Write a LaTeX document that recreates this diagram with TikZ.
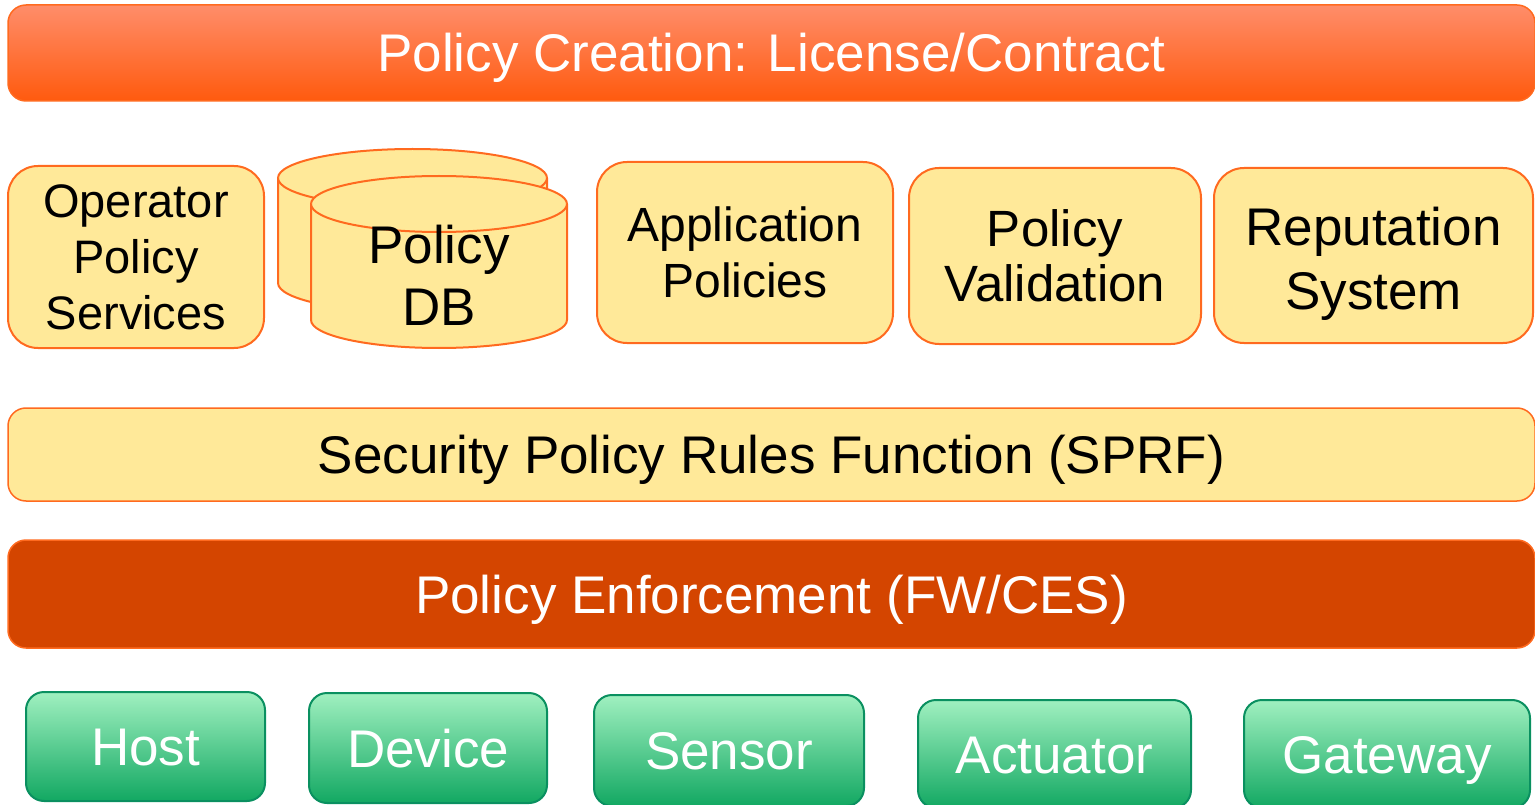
\documentclass[tikz,border=0pt]{standalone}
\usepackage{fontspec}
\setmainfont{Liberation Sans}

\definecolor{pyellow}{HTML}{FFE999}
\definecolor{porange}{HTML}{FF6A1F}
\definecolor{ptop}{HTML}{FF8D6A}
\definecolor{pbot}{HTML}{FF5A0E}
\definecolor{penf}{HTML}{D44500}
\definecolor{gtop}{HTML}{A0F0C0}
\definecolor{gbot}{HTML}{12A862}
\definecolor{gline}{HTML}{0A9060}

\tikzset{
	bar/.style={rounded corners=18pt, minimum width=1527pt, draw=porange, line width=1.5pt,
		text height=38pt, text depth=0pt, font=\fontsize{53}{60}\selectfont},
	ybox/.style={rounded corners=30pt, fill=pyellow, draw=porange, line width=2pt, align=center},
	gbox/.style={rounded corners=18pt, top color=gtop, bottom color=gbot, draw=gline, line width=2pt,
		text=white, text height=38pt, text depth=0pt, font=\fontsize{53}{60}\selectfont},
	dbpart/.style={fill=pyellow, draw=porange, line width=2pt},
}

\begin{document}
\begin{tikzpicture}[x=1pt, y=-1pt]
	\useasboundingbox (0,0) rectangle (1535,805);
	% layers
	\node[bar, top color=ptop, bottom color=pbot, text=white, minimum height=96pt] (creation) at (771.5,53) {Policy Creation: License/Contract};
	\node[bar, fill=pyellow, minimum height=93pt] (sprf) at (771.5,454.5) {Security Policy Rules Function (SPRF)};
	\node[bar, fill=penf, text=white, minimum height=108pt] (enforce) at (771.5,594) {Policy Enforcement (FW/CES)};
	% policy sources
	\node[ybox, minimum width=256pt, minimum height=182pt, font=\fontsize{47}{56}\selectfont] (operator) at (136,257) {Operator\\Policy\\Services};
	\draw[dbpart] (278,178) -- (278,283) arc (180:360:134.5pt and 29pt) -- (547,178) arc (0:180:134.5pt and 29pt) -- cycle;
	\draw[dbpart] (278,178) arc (180:360:134.5pt and 29pt);
	\draw[dbpart] (311,204) -- (311,320) arc (180:360:128pt and 28pt) -- (567,204) arc (0:180:128pt and 28pt) -- cycle;
	\draw[dbpart] (311,204) arc (180:360:128pt and 28pt);
	\node[align=center, font=\fontsize{53}{62}\selectfont] (db) at (439,275) {Policy\\DB};
	\node[ybox, minimum width=296pt, minimum height=181pt, font=\fontsize{48}{56}\selectfont] (apps) at (745,252.5) {Application\\Policies};
	\node[ybox, minimum width=292pt, minimum height=176pt, font=\fontsize{51}{55}\selectfont] (valid) at (1055,256) {Policy\\Validation};
	\node[ybox, minimum width=319pt, minimum height=175pt, font=\fontsize{53}{64}\selectfont] (reput) at (1373.5,255.5) {\rule{0pt}{54pt}Reputation\\System};
	% endpoints
	\node[gbox, minimum width=239pt, minimum height=109pt] (host) at (145.5,746.5) {Host};
	\node[gbox, minimum width=238pt, minimum height=110pt] (device) at (428,748) {Device};
	\node[gbox, minimum width=270pt, minimum height=111pt] (sensor) at (729,750.5) {Sensor};
	\node[gbox, minimum width=273pt, minimum height=108pt] (actuator) at (1054.5,754) {Actuator};
	\node[gbox, minimum width=286pt, minimum height=108pt] (gateway) at (1387,754) {Gateway};
\end{tikzpicture}
\end{document}
